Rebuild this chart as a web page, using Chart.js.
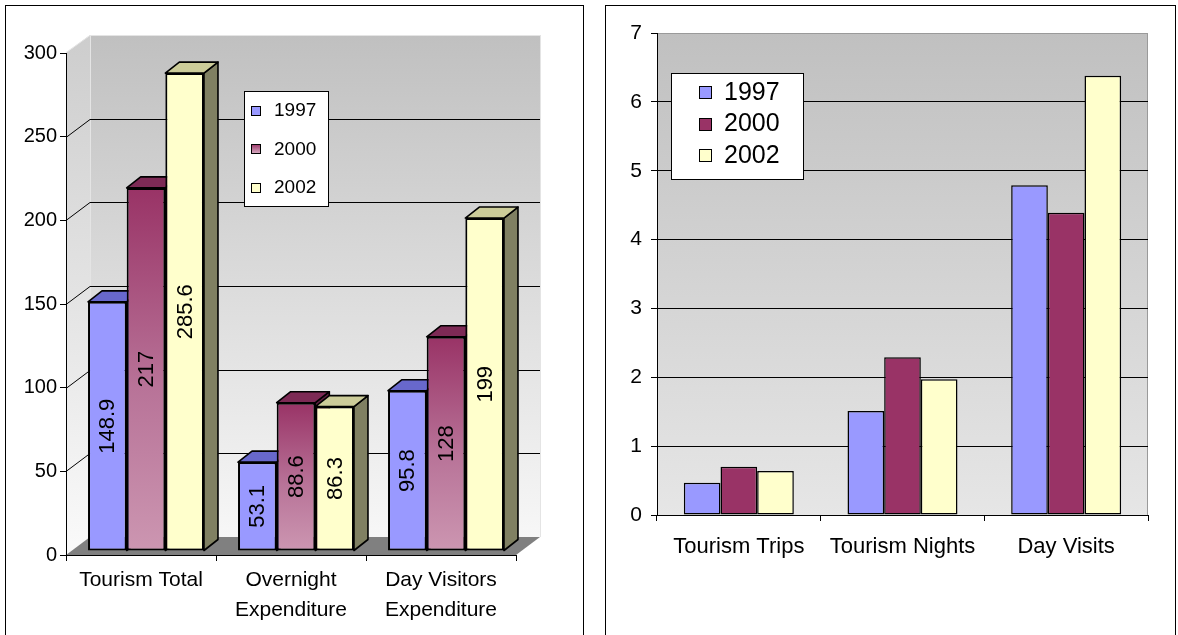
<!DOCTYPE html>
<html><head><meta charset="utf-8">
<script src="https://cdn.jsdelivr.net/npm/chart.js@4.4.1/dist/chart.umd.min.js"></script>
<style>
body{margin:0;background:#fff;width:1178px;height:635px;overflow:hidden;position:relative;}
.panel{position:absolute;border:1px solid #000;box-sizing:border-box;}
canvas{position:absolute;top:0;}
</style></head><body>
<div class="panel" style="left:5px;top:5px;width:579px;height:700px"></div>
<div class="panel" style="left:605px;top:5px;width:571px;height:700px"></div>
<canvas id="c1" width="590" height="635" style="left:0"></canvas>
<canvas id="c2" width="578" height="635" style="left:600px"></canvas>
<script>
// ---------- data ----------
const years = ['1997', '2000', '2002'];
const leftCategories = ['Tourism Total', ['Overnight', 'Expenditure'], ['Day Visitors', 'Expenditure']];
const left1997 = [148.9, 53.1, 95.8];
const left2000 = [217, 88.6, 128];
const left2002 = [285.6, 86.3, 199];
const leftAxis = {min: 0, max: 300, step: 50};
const rightCategories = ['Tourism Trips', 'Tourism Nights', 'Day Visits'];
const right1997 = [0.47, 1.51, 4.79];
const right2000 = [0.70, 2.29, 4.39];
const right2002 = [0.64, 1.97, 6.38];
const rightAxis = {min: 0, max: 7, step: 1};

// ---------- styles ----------
const FONT = '"Liberation Sans", Arial, sans-serif';
Chart.defaults.font.family = FONT;
Chart.defaults.color = '#000';
const C1997 = '#9999ff', C2000 = '#993366', C2002 = '#ffffcc';
const faceColors = [
  {top: '#6868cc', side: '#5252a8'},
  {top: '#7d2a55', side: '#5e1f40'},
  {top: '#cccc99', side: '#808062'}
];

function grad2000(c) {
  if (c.type !== 'data') return C2000;
  const ch = c.chart, y = ch.scales && ch.scales.y;
  if (!y) return C2000;
  const t = y.getPixelForValue(c.raw), b = y.getPixelForValue(0);
  if (!isFinite(t) || !isFinite(b) || t === b) return C2000;
  const g = ch.ctx.createLinearGradient(0, t, 0, b);
  g.addColorStop(0, '#993366');
  g.addColorStop(0.55, '#b87398');
  g.addColorStop(1, '#cc96b1');
  return g;
}

// ---------- left chart 3D plugin ----------
const DX = 24, DY = 18;      // wall depth
const BDX = 14, BDY = 11;    // bar depth
const SX = 5, SY = -4;       // bar plane offset
function poly(ctx, pts) {
  ctx.beginPath();
  ctx.moveTo(pts[0][0], pts[0][1]);
  for (let i = 1; i < pts.length; i++) ctx.lineTo(pts[i][0], pts[i][1]);
  ctx.closePath();
}
const threeD = {
  id: 'threeD',
  beforeDraw(chart) {
    const {ctx, chartArea: a, scales: {y}} = chart;
    const L = a.left, R = a.right, T = a.top, B = a.bottom;
    ctx.save();
    let g = ctx.createLinearGradient(0, T - DY, 0, B);
    g.addColorStop(0, '#cdcdcd'); g.addColorStop(1, '#fafafa');
    ctx.fillStyle = g;
    poly(ctx, [[L, T], [L + DX, T - DY], [L + DX, B - DY], [L, B]]); ctx.fill();
    g = ctx.createLinearGradient(0, T - DY, 0, B - DY);
    g.addColorStop(0, '#c0c0c0'); g.addColorStop(1, '#f7f7f7');
    ctx.fillStyle = g;
    ctx.fillRect(L + DX, T - DY, R - L, B - T);
    ctx.strokeStyle = '#e4e4e4'; ctx.lineWidth = 1;
    ctx.beginPath();
    ctx.moveTo(L + DX + 0.5, T - DY); ctx.lineTo(L + DX + 0.5, B - DY);
    ctx.moveTo(R + DX + 0.5, T - DY); ctx.lineTo(R + DX + 0.5, B - DY);
    ctx.moveTo(L, T - 0.5); ctx.lineTo(L + DX, T - DY + 0.5); ctx.lineTo(R + DX, T - DY + 0.5);
    ctx.stroke();
    ctx.fillStyle = '#808080';
    poly(ctx, [[L, B], [R, B], [R + DX, B - DY], [L + DX, B - DY]]); ctx.fill();
    ctx.strokeStyle = '#000'; ctx.lineWidth = 1;
    ctx.beginPath();
    for (let v = leftAxis.min + leftAxis.step; v < leftAxis.max; v += leftAxis.step) {
      const yy = Math.round(y.getPixelForValue(v)) + 0.5;
      ctx.moveTo(L, yy); ctx.lineTo(L + DX, yy - DY); ctx.lineTo(R + DX, yy - DY);
    }
    ctx.stroke();
    ctx.restore();
  },
  beforeDatasetsDraw(chart) {
    const ctx = chart.ctx;
    ctx.save();
    ctx.translate(SX, SY);
    const bars = [];
    chart.data.datasets.forEach((ds, di) => {
      chart.getDatasetMeta(di).data.forEach(el => bars.push({el, di}));
    });
    bars.sort((p, q) => p.el.x - q.el.x);
    ctx.lineWidth = 1.6; ctx.lineJoin = 'round'; ctx.strokeStyle = '#000';
    bars.forEach(({el, di}) => {
      const {x, y, base, width} = el.getProps(['x', 'y', 'base', 'width'], true);
      const l = x - width / 2, r = x + width / 2;
      ctx.fillStyle = faceColors[di].side;
      poly(ctx, [[r, y], [r + BDX, y - BDY], [r + BDX, base - BDY], [r, base]]);
      ctx.fill(); ctx.stroke();
      ctx.fillStyle = faceColors[di].top;
      poly(ctx, [[l, y], [r, y], [r + BDX, y - BDY], [l + BDX, y - BDY]]);
      ctx.fill(); ctx.stroke();
    });
  },
  afterDatasetsDraw(chart) {
    const ctx = chart.ctx;
    ctx.fillStyle = '#000';
    ctx.font = '22px ' + FONT;
    ctx.textAlign = 'center'; ctx.textBaseline = 'middle';
    chart.data.datasets.forEach((ds, di) => {
      chart.getDatasetMeta(di).data.forEach((el, i) => {
        const {x, y, base} = el.getProps(['x', 'y', 'base'], true);
        ctx.save();
        ctx.translate(x, (y + base) / 2);
        ctx.rotate(-Math.PI / 2);
        ctx.fillText(String(ds.data[i]), 0, 1);
        ctx.restore();
      });
    });
    ctx.restore();
  }
};

function drawLegend(chart, box, sq, textX, ys, fontPx, gradient) {
  const ctx = chart.ctx;
  ctx.save();
  ctx.fillStyle = '#fff';
  ctx.fillRect(box[0], box[1], box[2], box[3]);
  ctx.strokeStyle = '#000'; ctx.lineWidth = 1;
  ctx.strokeRect(box[0] + 0.5, box[1] + 0.5, box[2], box[3]);
  ctx.font = fontPx + 'px ' + FONT;
  ctx.textBaseline = 'middle'; ctx.textAlign = 'left';
  chart.data.datasets.forEach((ds, i) => {
    const yc = ys[i];
    const top = Math.round(yc - sq[1] / 2);
    let fill = [C1997, C2000, C2002][i];
    if (i === 1 && gradient) {
      const g = ctx.createLinearGradient(0, top, 0, top + sq[1]);
      g.addColorStop(0, '#993366'); g.addColorStop(1, '#d4a6bd');
      fill = g;
    }
    ctx.fillStyle = fill;
    ctx.fillRect(sq[0], top, sq[1], sq[1]);
    ctx.strokeStyle = '#000';
    ctx.strokeRect(sq[0] + 0.5, top + 0.5, sq[1], sq[1]);
    ctx.fillStyle = '#000';
    ctx.fillText(ds.label, textX, yc + 1);
  });
  ctx.restore();
}
const legendLeft = {
  id: 'legendLeft',
  afterDraw(chart) {
    drawLegend(chart, [244, 91, 84, 115], [251, 9], 274, [110, 148.5, 187], 19, true);
  }
};
const legendRight = {
  id: 'legendRight',
  afterDraw(chart) {
    drawLegend(chart, [71, 73, 132, 106], [99, 12], 124, [92, 123.5, 155], 25, false);
  }
};
const plotBg = {
  id: 'plotBg',
  beforeDraw(chart) {
    const {ctx, chartArea: a} = chart;
    ctx.save();
    const g = ctx.createLinearGradient(0, a.top, 0, a.bottom);
    g.addColorStop(0, '#c0c0c0'); g.addColorStop(1, '#e6e6e6');
    ctx.fillStyle = g;
    ctx.fillRect(a.left, a.top, a.right - a.left, a.bottom - a.top);
    ctx.strokeStyle = '#9a9a9a'; ctx.lineWidth = 1;
    ctx.beginPath();
    ctx.moveTo(a.left, a.top + 0.5); ctx.lineTo(a.right - 0.5, a.top + 0.5); ctx.lineTo(a.right - 0.5, a.bottom);
    ctx.stroke();
    ctx.restore();
  }
};

// ---------- left chart ----------
new Chart(document.getElementById('c1'), {
  type: 'bar',
  data: {
    labels: leftCategories,
    datasets: [
      {label: years[0], data: left1997, backgroundColor: C1997},
      {label: years[1], data: left2000, backgroundColor: grad2000},
      {label: years[2], data: left2002, backgroundColor: C2002}
    ]
  },
  options: {
    responsive: false, animation: false, events: [],
    layout: {padding: {left: 6, right: 74, top: 53, bottom: 0}},
    datasets: {bar: {categoryPercentage: 0.773, barPercentage: 1, borderColor: '#000', borderWidth: 2, borderSkipped: false, clip: false}},
    plugins: {legend: {display: false}, tooltip: {enabled: false}},
    scales: {
      x: {
        grid: {drawOnChartArea: false, tickLength: 6, color: '#000'},
        border: {color: '#000'},
        ticks: {font: {size: 21, lineHeight: 1.43}, color: '#000', padding: 4, maxRotation: 0, autoSkip: false},
        afterFit: s => { s.height = 80; }
      },
      y: {
        min: leftAxis.min, max: leftAxis.max,
        ticks: {stepSize: leftAxis.step, font: {size: 20}, color: '#000', padding: 3},
        grid: {drawOnChartArea: false, tickLength: 6, color: '#000'},
        border: {color: '#000'},
        afterFit: s => { s.width = 60; }
      }
    }
  },
  plugins: [threeD, legendLeft]
});

// ---------- right chart ----------
new Chart(document.getElementById('c2'), {
  type: 'bar',
  data: {
    labels: rightCategories,
    datasets: [
      {label: years[0], data: right1997, backgroundColor: C1997},
      {label: years[1], data: right2000, backgroundColor: C2000},
      {label: years[2], data: right2002, backgroundColor: C2002}
    ]
  },
  options: {
    responsive: false, animation: false, events: [],
    layout: {padding: {left: 7, right: 30, top: 33, bottom: 40}},
    datasets: {bar: {categoryPercentage: 0.672, barPercentage: 1, borderColor: '#000', borderWidth: 1.5, borderSkipped: false}},
    plugins: {legend: {display: false}, tooltip: {enabled: false}},
    scales: {
      x: {
        grid: {drawOnChartArea: false, tickLength: 6, color: '#000'},
        border: {color: '#000'},
        ticks: {font: {size: 22}, color: '#000', padding: 13, maxRotation: 0, autoSkip: false},
        afterFit: s => { s.height = 80; }
      },
      y: {
        min: rightAxis.min, max: rightAxis.max,
        ticks: {stepSize: rightAxis.step, font: {size: 21}, color: '#000', padding: 9},
        grid: {color: c => (c.tick && c.tick.value === rightAxis.max) ? '#9a9a9a' : '#000', tickColor: '#000', tickLength: 6},
        border: {color: '#000'},
        afterFit: s => { s.width = 50; }
      }
    }
  },
  plugins: [plotBg, legendRight]
});
</script>
</body></html>
